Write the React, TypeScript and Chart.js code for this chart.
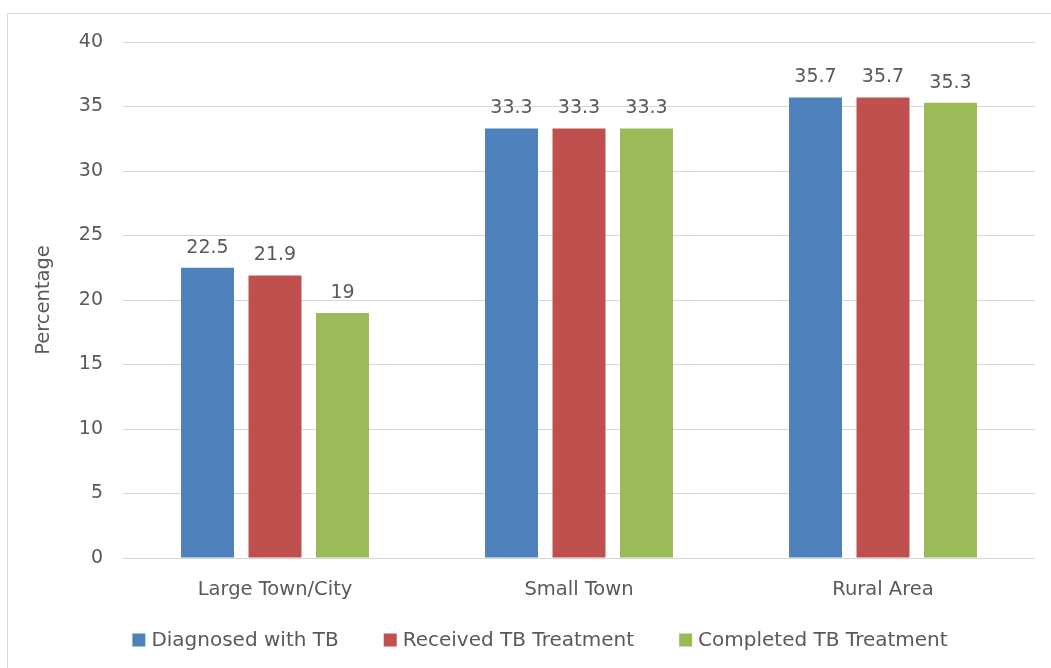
import React, { useEffect, useRef } from "react";
import { Chart, registerables } from "chart.js";

Chart.register(...registerables);

const categories = ["Large Town/City", "Small Town", "Rural Area"];
const seriesNames = ["Diagnosed with TB", "Received TB Treatment", "Completed TB Treatment"];
const diagnosed = [22.5, 33.3, 35.7];
const received = [21.9, 33.3, 35.7];
const completed = [19, 33.3, 35.3];
const seriesColors = ["#4F81BD", "#C0504D", "#9BBB59"];
const yTicks = [0, 5, 10, 15, 20, 25, 30, 35, 40];

const TEXT = "#595959";
const FONT = "'DejaVu Sans', Verdana, sans-serif";

// Value labels above each bar
const valueLabels = {
  id: "valueLabels",
  afterDatasetsDraw(chart: any) {
    const ctx = chart.ctx;
    ctx.save();
    ctx.font = `19px ${FONT}`;
    ctx.fillStyle = TEXT;
    ctx.textAlign = "center";
    ctx.textBaseline = "alphabetic";
    chart.data.datasets.forEach((ds: any, i: number) => {
      const meta = chart.getDatasetMeta(i);
      meta.data.forEach((el: any, j: number) => {
        ctx.fillText(String(ds.data[j]), el.x, el.y - 15);
      });
    });
    ctx.restore();
  },
};

// Legend row beneath the axis, square swatches followed by series names
const bottomLegend = {
  id: "bottomLegend",
  afterDraw(chart: any) {
    const ctx = chart.ctx;
    const box = 13;
    const textGap = 6;
    const itemGap = 45;
    ctx.save();
    ctx.font = `20px ${FONT}`;
    ctx.textBaseline = "middle";
    ctx.textAlign = "left";
    const items = chart.data.datasets.map((ds: any) => ({
      label: ds.label,
      color: ds.backgroundColor,
      w: ctx.measureText(ds.label).width,
    }));
    const total =
      items.reduce((s: number, it: any) => s + box + textGap + it.w, 0) +
      itemGap * (items.length - 1);
    let x = chart.width / 2 + 10 - total / 2;
    const cy = chart.height - 28;
    items.forEach((it: any) => {
      ctx.fillStyle = it.color;
      ctx.fillRect(x, cy - box / 2, box, box);
      ctx.fillStyle = TEXT;
      ctx.fillText(it.label, x + box + textGap, cy + 1);
      x += box + textGap + it.w + itemGap;
    });
    ctx.restore();
  },
};

export default function App() {
  const canvasRef = useRef<HTMLCanvasElement | null>(null);

  useEffect(() => {
    if (!canvasRef.current) return;
    const data = [diagnosed, received, completed];
    const chart = new Chart(canvasRef.current, {
      type: "bar",
      data: {
        labels: categories,
        datasets: seriesNames.map((name, i) => ({
          label: name,
          data: data[i],
          backgroundColor: seriesColors[i],
          borderWidth: 0,
          categoryPercentage: 0.666,
          barPercentage: 0.785,
        })),
      },
      options: {
        animation: false,
        responsive: true,
        maintainAspectRatio: false,
        layout: { padding: { left: 20, right: 17, top: 28, bottom: 60 } },
        plugins: {
          legend: { display: false },
          tooltip: { enabled: false },
        },
        scales: {
          x: {
            grid: { display: false },
            border: { display: false },
            ticks: {
              color: TEXT,
              font: { family: FONT, size: 19.5 },
              padding: 12,
              maxRotation: 0,
            },
            afterFit(scale: any) {
              scale.height = 50;
            },
          },
          y: {
            min: 0,
            max: 40,
            afterBuildTicks(scale: any) {
              scale.ticks = yTicks.map((v) => ({ value: v }));
            },
            grid: { color: "#d6d6d6", lineWidth: 1, drawTicks: false },
            border: { display: false },
            ticks: {
              color: TEXT,
              font: { family: FONT, size: 19 },
              padding: 20,
            },
            title: {
              display: true,
              text: "Percentage",
              color: TEXT,
              font: { family: FONT, size: 19.5 },
            },
            afterFit(scale: any) {
              scale.width = 95;
              scale.paddingTop = 0;
              scale.paddingBottom = 0;
            },
          },
        },
      },
      plugins: [valueLabels, bottomLegend],
    });
    return () => chart.destroy();
  }, []);

  return (
    <div
      style={{
        position: "absolute",
        left: 7,
        top: 13,
        width: 1046,
        height: 656,
        boxSizing: "border-box",
        border: "1px solid #d9d9d9",
        background: "#fff",
      }}
    >
      <canvas ref={canvasRef} />
    </div>
  );
}
